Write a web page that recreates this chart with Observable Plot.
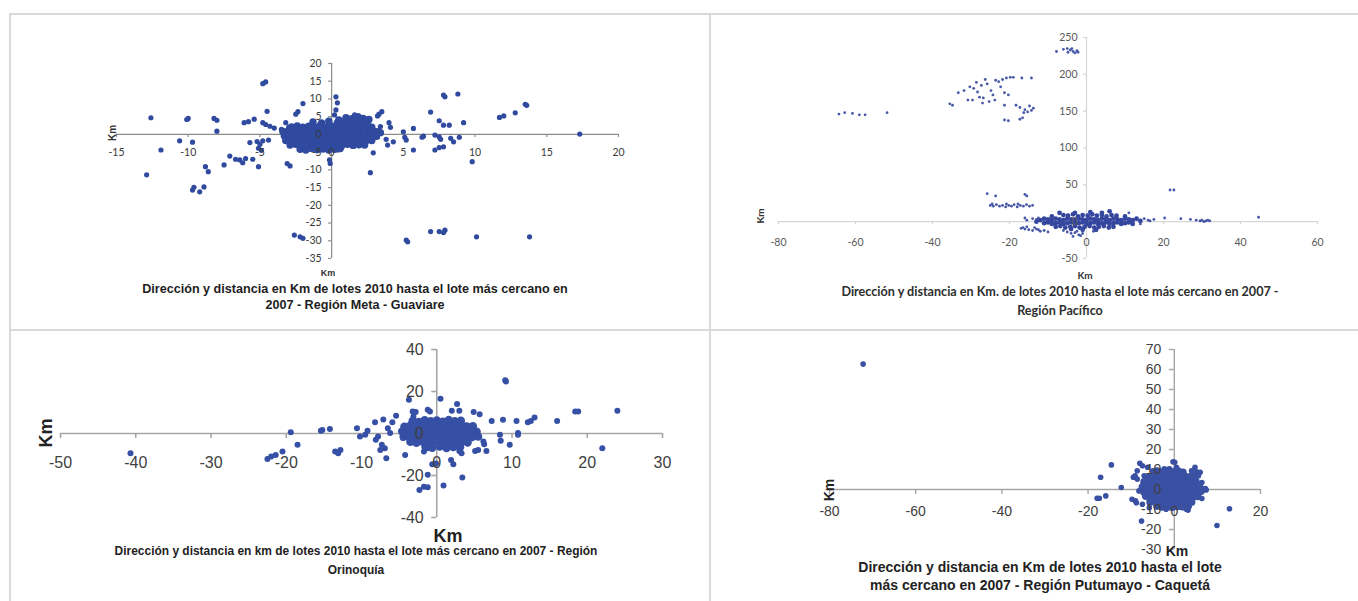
<!DOCTYPE html>
<html><head><meta charset="utf-8">
<script src="https://cdn.jsdelivr.net/npm/d3@7"></script>
<script src="https://cdn.jsdelivr.net/npm/@observablehq/plot@0.6"></script>
<style>
body{margin:0;background:#fff;}
#root{position:relative;width:1358px;height:601px;overflow:hidden;background:#fff;font-family:"Liberation Sans",Arial,sans-serif;}
.ln{position:absolute;background:#d9d9d9;}
.p{position:absolute;}
.cap{position:absolute;text-align:center;white-space:nowrap;font-weight:bold;}
.t{position:absolute;font-weight:bold;white-space:nowrap;transform:translate(-50%,-50%);}
.tr{position:absolute;font-weight:bold;white-space:nowrap;transform:translate(-50%,-50%) rotate(-90deg);}
</style></head>
<body><div id="root">
<div class="ln" style="left:10px;top:13px;width:1348px;height:2px"></div>
<div class="ln" style="left:9px;top:13px;width:2px;height:588px"></div>
<div class="ln" style="left:709px;top:13px;width:2px;height:588px"></div>
<div class="ln" style="left:10px;top:329px;width:1348px;height:2px"></div>

<div class="p" id="p1" style="left:100px;top:50px;width:540px;height:230px"></div>
<div class="p" id="p2" style="left:740px;top:20px;width:600px;height:260px"></div>
<div class="p" id="p3" style="left:20px;top:335px;width:680px;height:200px"></div>
<div class="p" id="p4" style="left:800px;top:335px;width:500px;height:230px"></div>

<div class="tr" style="left:112px;top:133px;font-size:10px;color:#333">Km</div>
<div class="t" style="left:328px;top:273px;font-size:9px;color:#333">Km</div>
<div class="cap" style="left:55px;width:600px;top:281px;font-size:12.6px;line-height:16px;color:#1e1e1e">Dirección y distancia en Km de lotes 2010 hasta el lote más cercano en<br>2007 - Región Meta - Guaviare</div>

<div class="tr" style="left:760px;top:216px;font-size:10px;color:#333;font-family:Lato">Km</div>
<div class="t" style="left:1085px;top:275px;font-size:10px;color:#333;font-family:Lato">Km</div>
<div class="cap" style="left:760px;width:600px;top:282px;font-size:12.6px;line-height:19px;color:#2e2e2e;font-family:Lato">Dirección y distancia en Km. de lotes 2010 hasta el lote más cercano en 2007 -<br>Región Pacífico</div>

<div class="tr" style="left:46px;top:433px;font-size:18px;color:#222">Km</div>
<div class="t" style="left:448px;top:536px;font-size:18px;color:#222">Km</div>
<div class="cap" style="left:56px;width:600px;top:541px;font-size:13.5px;line-height:19px;color:#222;transform:scaleX(0.885);transform-origin:300px 0">Dirección y distancia en km de lotes 2010 hasta el lote más cercano en 2007 - Región<br>Orinoquía</div>

<div class="tr" style="left:829px;top:490px;font-size:14px;color:#222">Km</div>
<div class="t" style="left:1177px;top:551px;font-size:14px;color:#222">Km</div>
<div class="cap" style="left:740px;width:600px;top:558px;font-size:14px;line-height:18px;color:#222">Dirección y distancia en Km de lotes 2010 hasta el lote<br>más cercano en 2007 - Región Putumayo - Caquetá</div>
</div>
<script>
// ---------- Panel 1: Meta - Guaviare ----------
const metaXTicks = [-15, -10, -5, 0, 5, 10, 15, 20];
const metaYTicks = [20, 15, 10, 5, 0, -5, -10, -15, -20, -25, -30, -35];
const metaOutliers = [[-4.6,14.8],[-4.8,14.3],[0.3,10.6],[0.4,8.9],[-2.0,8.7],[0.3,6.9],[0.2,5.5],[-2.35,6.4],[-2.5,5.7],[-4.5,6.5],[-12.6,4.7],[-10.0,4.5],[-10.1,4.2],[-8.2,4.5],[-8.0,4.0],[-8.0,0.9],[-6.1,3.3],[-5.8,3.6],[-5.4,4.3],[-4.8,3.3],[-4.6,2.8],[-4.3,2.3],[-4.0,1.8],[-3.5,1.4],[-3.0,1.3],[-3.2,3.3],[-3.0,2.0],[-10.6,-1.8],[-9.7,-2.2],[-11.9,-4.4],[-12.9,-11.4],[-9.6,-14.9],[-9.7,-15.7],[-8.9,-14.8],[-9.2,-16.2],[-8.8,-9.1],[-8.6,-10.5],[-7.5,-8.6],[-7.1,-6.1],[-6.7,-7.0],[-6.4,-7.2],[-6.2,-8.0],[-6.0,-6.8],[-5.5,-7.0],[-5.1,-9.1],[-5.7,-2.3],[-5.2,-2.0],[-5.0,-2.8],[-4.8,-1.8],[-5.1,-3.9],[-4.9,-4.5],[-4.4,-1.6],[-3.1,-8.2],[-2.9,-8.9],[-2.6,-28.4],[-2.2,-28.9],[-2.0,-29.3],[-0.15,-7.2],[-0.1,-8.2],[0.45,-4.4],[2.7,-10.8],[2.9,-5.2],[3.3,5.7],[3.5,6.4],[3.2,5.2],[2.35,3.85],[1.6,5.5],[1.9,5.2],[3.4,2.2],[3.3,1.2],[4.0,3.3],[4.1,2.0],[3.2,-0.7],[3.8,-1.4],[3.9,-3.0],[4.3,-2.1],[5.0,0.75],[5.1,-0.8],[5.2,-1.6],[5.7,1.7],[5.7,-4.4],[6.3,-0.8],[6.4,-0.5],[6.9,6.3],[7.5,3.85],[7.2,-0.2],[7.5,-0.7],[7.6,-1.4],[7.2,-4.4],[7.5,-3.7],[7.8,-3.5],[7.8,11.1],[7.9,10.6],[8.8,11.4],[7.8,2.6],[8.2,2.6],[8.3,-1.1],[8.5,-2.1],[8.9,-0.8],[9.2,3.3],[9.8,-7.7],[6.9,-27.4],[7.5,-27.4],[7.8,-27.7],[7.9,-27.0],[5.2,-29.8],[5.3,-30.3],[10.1,-28.9],[13.8,-28.9],[11.7,4.8],[12.0,5.2],[12.8,6.1],[13.5,8.5],[13.6,8.2],[17.3,0.1]];
const metaCore = [[-1.3,3.5],[-0.7,3.2],[-0.2,3.7],[0.4,3.3],[0.9,3.6],[1.3,3.2],[1.7,3.8],[2.1,3.4],[2.5,3.5],
[0.5,4.1],[1.0,4.7],[1.4,4.4],[1.8,4.9],[2.2,4.5],[2.6,4.2],
[-2.8,2.1],[-2.4,2.4],[-2.0,2.0],[-1.6,2.3],[-1.2,2.1],[-0.8,2.5],[-0.4,2.0],[0.0,2.3],[0.4,2.2],[0.8,2.5],[1.2,2.0],[1.6,2.3],[2.0,2.2],[2.4,2.5],[2.8,2.0],
[-3.4,0.8],[-3.0,1.1],[-2.6,0.7],[-2.2,1.0],[-1.8,0.8],[-1.4,1.2],[-1.0,0.9],[-0.6,0.7],[-0.2,1.1],[0.2,0.8],[0.6,1.0],[1.0,0.7],[1.4,1.1],[1.8,0.9],[2.2,0.7],[2.6,1.0],[3.0,0.8],[3.4,0.5],
[-3.3,-0.4],[-2.9,-0.2],[-2.5,-0.6],[-2.1,-0.3],[-1.7,-0.5],[-1.3,-0.2],[-0.9,-0.6],[-0.5,-0.3],[-0.1,-0.4],[0.3,-0.6],[0.7,-0.2],[1.1,-0.5],[1.5,-0.3],[1.9,-0.6],[2.3,-0.4],[2.7,-0.2],[3.1,-0.5],
[-3.2,-1.7],[-2.8,-1.5],[-2.4,-1.9],[-2.0,-1.6],[-1.6,-1.8],[-1.2,-1.5],[-0.8,-1.9],[-0.4,-1.6],[0.0,-1.7],[0.4,-1.5],[0.8,-1.8],[1.2,-1.6],[1.6,-1.9],[2.0,-1.5],[2.4,-1.8],[2.8,-1.7],
[-2.9,-3.0],[-2.5,-2.8],[-2.1,-3.2],[-1.7,-2.9],[-1.3,-3.1],[-0.9,-2.8],[-0.5,-3.2],[-0.1,-2.9],[0.3,-3.0],[0.7,-3.2],[1.1,-2.8],[1.5,-3.1],[1.9,-2.9],[2.3,-3.0],
[-2.2,-4.2],[-1.8,-4.4],[-1.4,-4.0],[-1.0,-4.3],[-0.6,-4.1],[-0.2,-4.4],[0.2,-4.2],[0.6,-4.0]];

// ---------- Panel 2: Pacífico ----------
const pacXTicks = [-80, -60, -40, -20, 0, 20, 40, 60];
const pacYTicks = [250, 200, 150, 100, 50, 0, -50];
const pacOutliers = [[-7.8,231],[-6,234],[-5,235],[-4.2,233],[-3.5,231],[-3,229],[-2.5,232],[-4.8,230],[-3.8,235],[-2.2,230],
[-64.3,146],[-62.8,148],[-60.8,147],[-59,145],[-57.5,145],[-51.8,148],
[-35.5,160],[-34.8,158],[-33.3,175],[-31.8,178],[-30.8,165],[-30.3,183],[-29.3,181],[-28.3,176],[-27.8,169],[-27,161],[-26.3,193],[-25.8,187],[-24.8,178],[-24.3,172],[-23.8,165],[-23.6,192],[-22.8,190],[-22.3,183],[-21.8,193],[-21.3,175],[-20.8,195],[-19.8,196],[-20.3,172],[-19,196],[-16.8,195],[-14.3,195],[-21.3,138],[-20.3,137],[-17.3,139],[-16.6,141],[-18.3,158],[-17.3,155],[-16,152],[-15.3,149],[-14.3,151],[-13.8,154],[-14.8,157],[-16.3,148],[-21.3,158],[-29.6,165],[-26.8,168],[-25.3,163],[-28.6,189],[-27.3,185],
[-25,22],[-24.2,21],[-23.4,23],[-22.6,21],[-21.8,22],[-21,20],[-20.2,22],[-19.5,21],[-18.8,23],[-18,20],[-17.2,22],[-16.4,21],[-15.6,23],[-14.8,21],[-14,22],[-24.5,24],[-20.8,24],[-17.8,24],
[-25.8,38],[-23.6,35],[-16,37],[-15.5,35],[21.7,43],[22.7,43],[44.7,6],
[17.5,3],[15,4],[16,2],[20.3,5],[24.5,4],[27,3],[28.5,2],[29.5,1],[30,2],[30.5,0],[31,1],[31.5,2],[32,1],
[-16.5,-8],[-16,-10],[-15,-11],[-14,-12],[-13,-10],[-12,-13],[-11,-12],[-10,-14],[-15.5,-7],[-13.5,-8],[-17,-9],[-12.5,-11],
[-5,-14],[-4,-16],[-3,-15],[-2,-18],[-1.5,-19],[-6,-12],[-3.5,-20],[-1,-16],[-2.5,-13],[1.8,-13],
[-14,4],[-13,3],[-12.5,5],[-15.5,2],[-16,5],[11,12],[14,-3],[16.5,1]];
const pacCore = [[-9,7],[-6,9],[-4.8,8],[-3.5,10],[-2.2,7],[-1,9],[0.3,8],[1.5,10],[2.7,8],[4,9],[5.2,7],[6.5,9],[7.8,8],[10,7],
[-12,2],[-11,4],[-10,3],[-9,2],[-8,4],[-7,3],[-6,2],[-5,4],[-4,3],[-3,2],[-2,4],[-1,3],[0,2],[1,4],[2,3],[3,2],[4,4],[5,3],[6,2],[7,4],[8,3],[9,2],[10,4],[11,3],[12,2],[13,4],
[-11,-2],[-10,-1],[-9,-3],[-8,-2],[-7,-1],[-6,-3],[-5,-2],[-4,-1],[-3,-3],[-2,-2],[-1,-1],[0,-3],[1,-2],[2,-1],[3,-3],[4,-2],[5,-1],[6,-3],[7,-2],[8,-1],[9,-3],[10,-2],[11,-1],[12,-3],
[-8,-7],[-6.8,-6],[-5.5,-8],[-4.2,-7],[-3,-6],[-1.8,-8],[-0.5,-7],[0.8,-6],[2,-8],[3.2,-7],[4.5,-6],[5.8,-8],[7,-7],
[-3,12],[1,13],[4,12],[6,14],[-7,12],[-1,-11],[2.5,-11],[-4,-10],[14,1],[-13,0]];

// ---------- Panel 3: Orinoquía ----------
const oriXTicks = [-50, -40, -30, -20, -10, 0, 10, 20, 30];
const oriYTicks = [40, 20, 0, -20, -40];
const oriOutliers = [[-40.7,-9.4],[-22.5,-12.1],[-22,-11],[-21.4,-10.2],[-20.5,-8.6],[-19.4,0.6],[-18.5,-5.4],[-15.4,1.3],[-15.2,1.7],[-14.2,2.2],[-13.5,-8.6],[-13.1,-9.4],[-12.8,-7.8],[-10.6,2.5],[-10.2,-1.4],[-9.5,-0.6],[-9.2,1.3],[-8.2,5.4],[-7.8,-1.4],[-8.1,-3],[-7.3,-5.4],[-6.9,-7],[-7.5,-7.8],[-6.7,-11.8],[-7.1,6.7],[-5.9,5.4],[-5.4,8.4],[-6.5,2.5],[-6.2,0.2],[-4.2,-10.2],[-3.7,16.1],[-3.2,10.5],[-2.8,10.2],[-3.1,8.1],[-1.2,11.3],[-0.9,10.5],[0.5,16.5],[2,10.8],[2.7,14],[3,10.8],[4.9,10.2],[5.7,9.2],[7.3,6],[8.8,6.5],[9.1,25.3],[9.2,24.8],[10.6,6],[10.8,0.2],[10.8,-0.6],[12.1,5.4],[12.5,6],[13,7.6],[16,6],[18.4,10.5],[18.8,10.5],[24,10.8],[22,-7],[9.7,-5.4],[8.5,-3.5],[8.4,-0.6],[5.1,-8.3],[5.5,-7.8],[6.6,-8.3],[6.2,-3.8],[6.3,-5.1],[3.3,-9.4],[3,-8.3],[2.2,-14.6],[1.9,-12.6],[3.4,-21],[0.9,-24.8],[-2.3,-26.9],[-1.7,-25.3],[-1.2,-25.6],[-1.2,-19.7],[-0.6,-14.6],[-0.1,-14.3],[-1.2,-7],[-1.7,-8.6],[-4.5,-2.2],[-4.5,-0.6]];
const oriCore = [[-3.2,6],[-2.4,5.5],[-1.6,6.3],[-0.8,5.8],[0,6.2],[0.8,5.6],[1.6,6.4],[2.4,5.9],[3.2,6.1],
[-4.3,3.2],[-3.5,3.8],[-2.8,3.3],[-2,3.7],[-1.2,3.4],[-0.5,3.9],[0.3,3.3],[1,3.8],[1.8,3.2],[2.5,3.6],[3.3,3.9],[4,3.3],[4.8,3.5],
[-4.6,1],[-3.8,0.6],[-3.1,1.3],[-2.3,0.8],[-1.6,1.2],[-0.8,0.5],[0,1.1],[0.8,0.7],[1.5,1.3],[2.3,0.9],[3,1.2],[3.8,0.6],[4.5,1.1],[5.3,0.8],
[-4.4,-1.5],[-3.6,-1.9],[-2.9,-1.2],[-2.1,-1.7],[-1.4,-1.3],[-0.6,-1.8],[0.2,-1.4],[0.9,-1.9],[1.7,-1.2],[2.4,-1.6],[3.2,-1.9],[3.9,-1.3],[4.7,-1.7],[5.5,-1.5],
[-3.5,-4],[-2.7,-4.4],[-2,-3.7],[-1.2,-4.2],[-0.5,-3.8],[0.3,-4.3],[1,-3.9],[1.8,-4.4],[2.5,-3.7],[3.3,-4.1],[4.1,-4.3],
[-1.5,-6.3],[-0.6,-6.8],[0.4,-6.2],[1.3,-6.9],[2.2,-6.4],[3.1,-6.6]];

// ---------- Panel 4: Putumayo - Caquetá ----------
const putXTicks = [-80, -60, -40, -20, 0, 20];
const putYTicks = [70, 60, 50, 40, 30, 20, 10, 0, -10, -20, -30];
const putOutliers = [[-72.2,62.7],[-14.6,12.3],[-17.1,6.1],[-12.3,1],[-15.9,-3.2],[-17.9,-4.4],[-17.4,-4.4],[-9,-5.7],[-9.8,-4.9],[-7.6,-15.8],[12.8,-9.6],[9.9,-18],[-8,13.1],[-7.4,11.9],[0.1,13.6],[5.2,8.9],[6,8.6],[5.6,6.9],[7.2,0.5],[6.8,0.2],[6.4,-4.5],[3.2,-10.3],[-9.1,6.9],[-8.6,5.2],[-8.2,-0.7],
[-9.5,6.1],[-8.6,9.4],[-7,6.9],[-6.6,3.5],[-8.8,-6.6],[-7.4,-7.4],[-5.8,-9.1],[-1.9,-9.9],[-1.1,-9.1],[2.8,-9.9],[4.8,3.5],[6.4,3.5],[6,-1.5],[7.4,-0.2],[5.6,-3.2],[-0.3,13.9],[0.5,11.1],[-1.1,10.3],[-2.3,10.3],[-3.5,8.6],[-5,9.4],[-6.2,11.1],[4,9.4],[4.8,11.1]];
const putCore = [[-4,9.2],[-2.8,8.7],[-1.6,9.4],[-0.4,8.8],[0.8,9.3],[2,8.6],
[-6,6.3],[-4.8,6.8],[-3.6,6.2],[-2.4,6.7],[-1.2,6.4],[0,6.9],[1.2,6.2],[2.4,6.6],[3.6,6.3],[4.6,6.8],
[-7,3.8],[-5.8,4.3],[-4.6,3.7],[-3.4,4.2],[-2.2,3.9],[-1,4.4],[0.2,3.8],[1.4,4.1],[2.6,3.7],[3.8,4.3],[5,3.9],
[-7.4,1.2],[-6.2,1.7],[-5,1.3],[-3.8,1.8],[-2.6,1.2],[-1.4,1.6],[-0.2,1.3],[1,1.8],[2.2,1.1],[3.4,1.6],[4.6,1.4],[5.8,1.7],
[-7,-1.2],[-5.8,-0.7],[-4.6,-1.3],[-3.4,-0.8],[-2.2,-1.1],[-1,-0.6],[0.2,-1.3],[1.4,-0.9],[2.6,-1.2],[3.8,-0.7],[5,-1.1],[6.2,-0.8],
[-6.6,-3.3],[-5.4,-3.8],[-4.2,-3.2],[-3,-3.7],[-1.8,-3.4],[-0.6,-3.9],[0.6,-3.3],[1.8,-3.6],[3,-3.2],[4.2,-3.8],[5.4,-3.4],
[-5.6,-6.2],[-4.4,-5.8],[-3.2,-6.3],[-2,-5.7],[-0.8,-6.1],[0.4,-5.9],[1.6,-6.4],[2.8,-5.8],[4,-6.2],
[-4,-8.3],[-2.8,-8.7],[-1.6,-8.2],[-0.4,-8.8],[0.8,-8.4],[2,-8.6],[3.2,-8.3]];

function panel(id, o) {
  const txt = {fontSize: o.fontSize, fontFamily: o.fontFamily, fill: o.textColor};
  const chart = Plot.plot({
    width: o.width, height: o.height,
    marginLeft: o.m[0], marginRight: o.m[1], marginTop: o.m[2], marginBottom: o.m[3],
    x: {domain: [o.xTicks[0], o.xTicks[o.xTicks.length - 1]], axis: null},
    y: {domain: [o.yTicks[o.yTicks.length - 1], o.yTicks[0]], axis: null},
    style: {background: "transparent", overflow: "visible"},
    marks: [
      Plot.ruleY([0], {stroke: o.axisColor, strokeWidth: o.axisWidth}),
      Plot.ruleX([0], {stroke: o.axisColor, strokeWidth: o.axisWidth}),
      Plot.ruleX(o.xTicks, {y1: () => 0, y2: () => 0, insetBottom: -o.tick, stroke: o.axisColor, strokeWidth: o.axisWidth}),
      Plot.ruleY(o.yTicks, {x1: () => 0, x2: () => 0, insetLeft: -o.tick, stroke: o.axisColor, strokeWidth: o.axisWidth}),
      Plot.dot(o.core, {x: d => d[0], y: d => d[1], r: o.coreR, fill: o.fill, stroke: "none"}),
      Plot.dot(o.outliers, {x: d => d[0], y: d => d[1], r: o.r, fill: o.fill, stroke: "none", fillOpacity: o.opacity}),
      Plot.text(o.xTicks, {x: d => d, y: () => 0, dy: o.xdy, text: d => String(d), ...txt}),
      Plot.text(o.yTicks, {x: () => 0, y: d => d, dx: o.ydx, textAnchor: "end", text: d => String(d), ...txt})
    ]
  });
  document.getElementById(id).appendChild(chart);
}

panel("p1", {outliers: metaOutliers, core: metaCore, xTicks: metaXTicks, yTicks: metaYTicks,
  width: 540, height: 230, m: [16, 22, 13, 22], r: 2.6, coreR: 3.7, fill: "#2f4a9e", opacity: 1,
  axisColor: "#8c8c8c", axisWidth: 1.2, tick: 3, fontSize: 10.5, fontFamily: "Lato, sans-serif", textColor: "#3a3a3a", xdy: 18, ydx: -10});
panel("p2", {outliers: pacOutliers, core: pacCore, xTicks: pacXTicks, yTicks: pacYTicks,
  width: 600, height: 260, m: [38, 23, 17, 22], r: 1.4, coreR: 2.4, fill: "#34469e", opacity: 0.9,
  axisColor: "#d6d6d6", axisWidth: 1.2, tick: 3, fontSize: 10.5, fontFamily: "Lato, sans-serif", textColor: "#595959", xdy: 21, ydx: -9});
panel("p3", {outliers: oriOutliers, core: oriCore, xTicks: oriXTicks, yTicks: oriYTicks,
  width: 680, height: 200, m: [40, 38, 14, 18], r: 3, coreR: 4.2, fill: "#3550a5", opacity: 1,
  axisColor: "#a6a6a6", axisWidth: 1.6, tick: 5, fontSize: 16, fontFamily: "Liberation Sans, Arial, sans-serif", textColor: "#404040", xdy: 29, ydx: -13});
panel("p4", {outliers: putOutliers, core: putCore, xTicks: putXTicks, yTicks: putYTicks,
  width: 500, height: 230, m: [29, 40, 14, 16], r: 2.8, coreR: 3.9, fill: "#3a50a3", opacity: 1,
  axisColor: "#a6a6a6", axisWidth: 1.4, tick: 5, fontSize: 14, fontFamily: "Liberation Sans, Arial, sans-serif", textColor: "#404040", xdy: 22, ydx: -13});
</script>
</body></html>
